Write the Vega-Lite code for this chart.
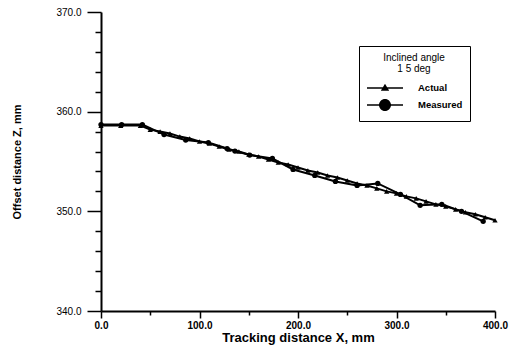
{
  "$schema": "https://vega.github.io/schema/vega-lite/v6.json",
  "width": 394,
  "height": 299,
  "autosize": {"type": "none"},
  "padding": {"left": 101, "top": 12, "right": 16, "bottom": 44},
  "config": {
    "view": {"stroke": null},
    "font": "Liberation Sans",
    "axis": {"domainColor": "black", "domainWidth": 2, "tickColor": "black", "tickWidth": 1.5, "labelColor": "black", "titleColor": "black", "grid": false, "labelFont": "Liberation Sans", "titleFont": "Liberation Sans"}
  },
  "data": {
    "values": [
      {"series": "Actual", "x": 0, "z": 358.6},
      {"series": "Actual", "x": 20, "z": 358.6},
      {"series": "Actual", "x": 40, "z": 358.6},
      {"series": "Actual", "x": 50, "z": 358.2},
      {"series": "Actual", "x": 60, "z": 358.0},
      {"series": "Actual", "x": 70, "z": 357.8},
      {"series": "Actual", "x": 80, "z": 357.5},
      {"series": "Actual", "x": 90, "z": 357.3},
      {"series": "Actual", "x": 100, "z": 357.0},
      {"series": "Actual", "x": 110, "z": 356.8},
      {"series": "Actual", "x": 120, "z": 356.5},
      {"series": "Actual", "x": 130, "z": 356.2},
      {"series": "Actual", "x": 140, "z": 356.0},
      {"series": "Actual", "x": 150, "z": 355.7},
      {"series": "Actual", "x": 160, "z": 355.5},
      {"series": "Actual", "x": 170, "z": 355.2},
      {"series": "Actual", "x": 180, "z": 354.9},
      {"series": "Actual", "x": 190, "z": 354.7},
      {"series": "Actual", "x": 200, "z": 354.4},
      {"series": "Actual", "x": 210, "z": 354.1},
      {"series": "Actual", "x": 220, "z": 353.9},
      {"series": "Actual", "x": 230, "z": 353.6},
      {"series": "Actual", "x": 240, "z": 353.4},
      {"series": "Actual", "x": 250, "z": 353.1},
      {"series": "Actual", "x": 260, "z": 352.8},
      {"series": "Actual", "x": 270, "z": 352.6},
      {"series": "Actual", "x": 280, "z": 352.3},
      {"series": "Actual", "x": 290, "z": 352.0},
      {"series": "Actual", "x": 300, "z": 351.8},
      {"series": "Actual", "x": 310, "z": 351.5},
      {"series": "Actual", "x": 320, "z": 351.3},
      {"series": "Actual", "x": 330, "z": 351.0},
      {"series": "Actual", "x": 340, "z": 350.7},
      {"series": "Actual", "x": 350, "z": 350.5},
      {"series": "Actual", "x": 360, "z": 350.2},
      {"series": "Actual", "x": 370, "z": 349.9},
      {"series": "Actual", "x": 380, "z": 349.7},
      {"series": "Actual", "x": 390, "z": 349.4},
      {"series": "Actual", "x": 400, "z": 349.1},
      {"series": "Measured", "x": 0, "z": 358.7},
      {"series": "Measured", "x": 21, "z": 358.7},
      {"series": "Measured", "x": 42, "z": 358.7},
      {"series": "Measured", "x": 64, "z": 357.7},
      {"series": "Measured", "x": 86, "z": 357.15},
      {"series": "Measured", "x": 109, "z": 356.9},
      {"series": "Measured", "x": 128, "z": 356.3},
      {"series": "Measured", "x": 136, "z": 356.05},
      {"series": "Measured", "x": 151, "z": 355.65},
      {"series": "Measured", "x": 174, "z": 355.3},
      {"series": "Measured", "x": 195, "z": 354.2},
      {"series": "Measured", "x": 217, "z": 353.6},
      {"series": "Measured", "x": 238, "z": 353.0},
      {"series": "Measured", "x": 260, "z": 352.6},
      {"series": "Measured", "x": 281, "z": 352.8},
      {"series": "Measured", "x": 304, "z": 351.7},
      {"series": "Measured", "x": 324, "z": 350.6},
      {"series": "Measured", "x": 346, "z": 350.7},
      {"series": "Measured", "x": 366, "z": 350.0},
      {"series": "Measured", "x": 388, "z": 349.0}
    ]
  },
  "encoding": {
    "x": {"field": "x", "type": "quantitative", "scale": {"domain": [0, 400], "nice": false},
      "axis": {"values": [0, 50, 100, 150, 200, 250, 300, 350, 400], "labelExpr": "datum.value % 100 == 0 ? format(datum.value, '.1f') : ''", "tickSize": {"condition": {"test": "datum.value % 100 == 0", "value": 7}, "value": 4}, "labelFontSize": 10, "labelFontWeight": "bold", "labelPadding": 2, "labelFlush": false, "title": "Tracking distance   X,  mm", "titleFontSize": 13, "titleFontWeight": "bold", "titlePadding": 1}},
    "y": {"field": "z", "type": "quantitative", "scale": {"domain": [340, 370], "nice": false, "zero": false},
      "axis": {"values": [340, 342, 344, 346, 348, 350, 352, 354, 356, 358, 360, 362, 364, 366, 368, 370], "labelExpr": "datum.value % 10 == 0 ? format(datum.value, '.1f') : ''", "tickSize": {"condition": {"test": "datum.value % 10 == 0", "value": 14}, "value": 6}, "labelFontSize": 10, "labelPadding": 6, "title": "Offset distance  Z, mm", "titleFontSize": 11, "titleFontWeight": "bold", "titlePadding": 33}}
  },
  "layer": [
    {
      "mark": {"type": "line", "color": "black", "strokeWidth": 2},
      "encoding": {"detail": {"field": "series"}}
    },
    {
      "mark": {"type": "point", "filled": true, "color": "black", "opacity": 1, "size": 28},
      "encoding": {
        "shape": {
          "field": "series",
          "type": "nominal",
          "scale": {"domain": ["Actual", "Measured"], "range": ["triangle-up", "circle"]},
          "legend": null
        }
      }
    },
    {
      "transform": [{"filter": "datum.x < 0"}],
      "mark": {"type": "point", "filled": true, "color": "black", "opacity": 1},
      "encoding": {
        "shape": {
          "field": "series",
          "type": "nominal",
          "scale": {"domain": ["Actual", "Measured"], "range": ["M-1,-0.12H5V0.12H-1ZM2,-0.7L2.7,0.45L1.3,0.45Z", "M-1,-0.12H5V0.12H-1ZM1,0A1,1 0 1,1 3,0A1,1 0 1,1 1,0Z"]},
          "legend": {
            "orient": "none",
            "legendX": 258,
            "legendY": 34,
            "title": ["Inclined angle", "   1 5 deg"],
            "titleFontSize": 10,
            "titleFontWeight": "normal",
            "titleColor": "black",
            "titleAnchor": "middle",
            "titleLineHeight": 11,
            "titlePadding": 7,
            "strokeColor": "black",
            "padding": 7,
            "symbolSize": 144,
            "symbolFillColor": "black",
            "symbolOpacity": 1,
            "labelOffset": 38,
            "labelFontSize": 9.5,
            "labelFontWeight": "bold",
            "labelColor": "black",
            "rowPadding": 2
          }
        }
      }
    }
  ],
  "resolve": {"scale": {"shape": "independent"}}
}
